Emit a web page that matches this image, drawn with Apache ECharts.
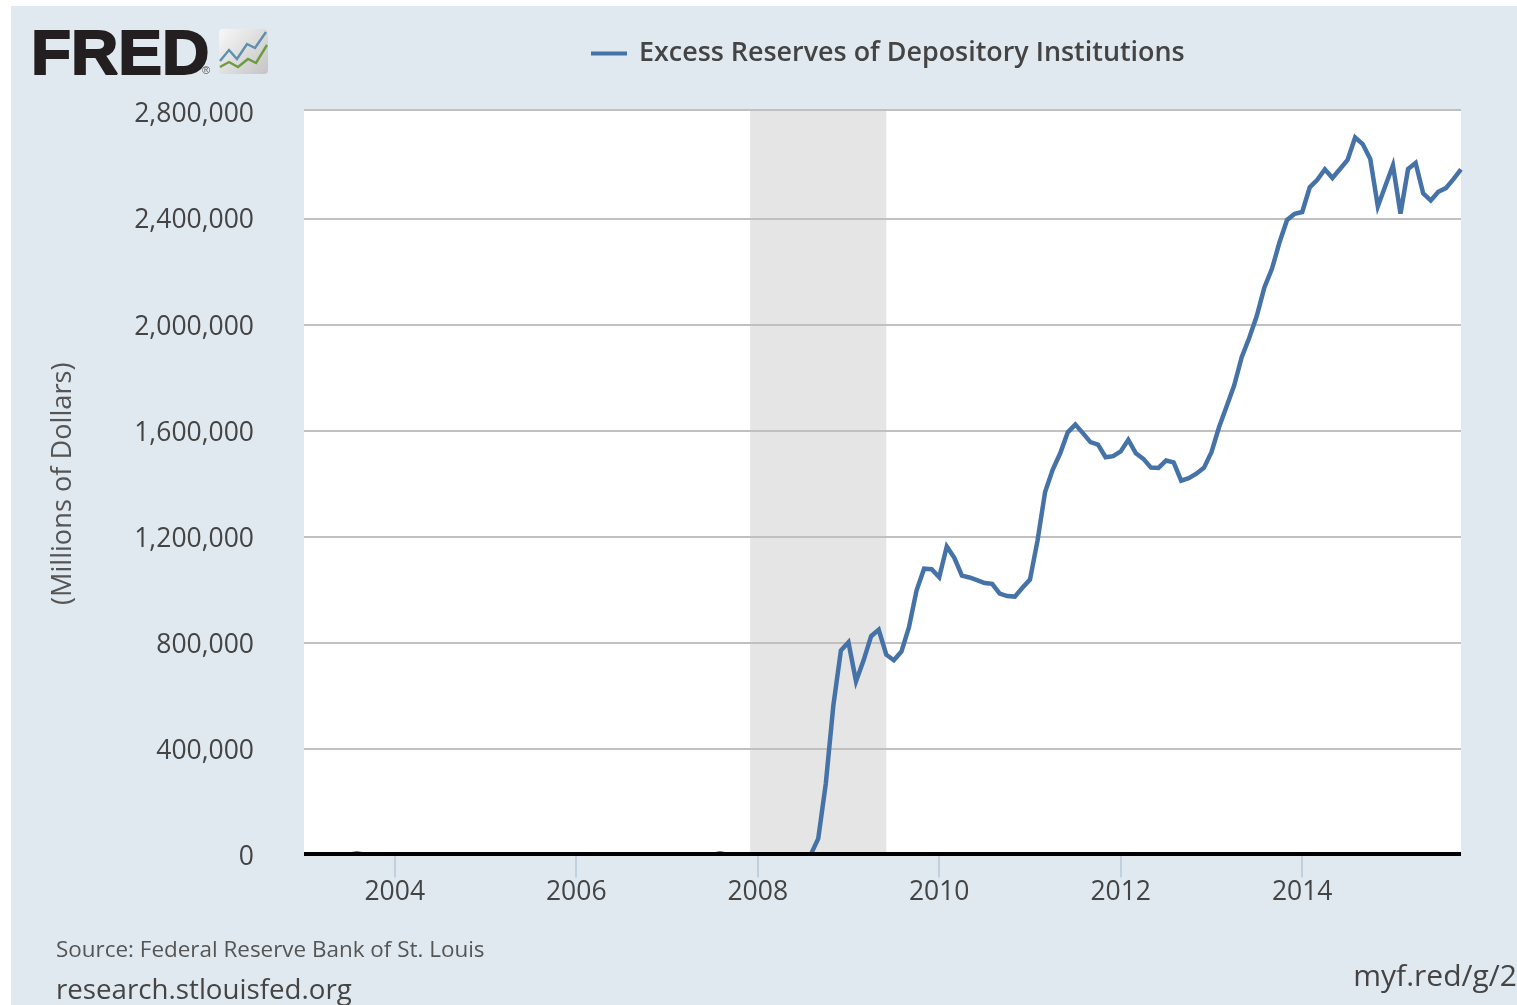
<!DOCTYPE html>
<html>
<head>
<meta charset="utf-8">
<style>html,body{margin:0;padding:0;background:#fff}#c{width:1517px;height:1005px}</style>
<script src="https://cdn.jsdelivr.net/npm/echarts@6/dist/echarts.min.js"></script>
</head>
<body>
<div id="c"></div>
<script>
const seriesName = 'Excess Reserves of Depository Institutions';
const yAxisTitle = '(Millions of Dollars)';
const sourceText = 'Source: Federal Reserve Bank of St. Louis';
const siteText = 'research.stlouisfed.org';
const linkText = 'myf.red/g/2';
const recession = ['2007-12', '2009-06'];
const startYear = 2003, endYear = 2015, endMonth = 10;

const values2003 = [1800,1700,1900,1700,1600,1800,2400,8000,3000,1800,1700,1600];
const values2004 = [1500,1700,1800,1700,2000,1900,1700,1800,1900,1700,1800,1700];
const values2005 = [1600,1700,1700,1800,1600,1700,1700,1600,1700,1500,1600,1500];
const values2006 = [1600,1500,1700,1500,1600,1600,1600,1700,1600,1500,1600,1600];
const values2007 = [1500,1500,1600,1600,1500,1500,1600,8000,3000,1700,1500,1800];
const values2008 = [1600,1700,1800,1800,1800,2000,1900,2000,63000,270000,565000,772000];
const values2009 = [803000,656000,735000,826000,850000,756000,735000,768000,860000,998000,1080000,1078000];
const values2010 = [1048000,1164000,1121000,1054000,1047000,1037000,1026000,1023000,986000,977000,975000,1008000];
const values2011 = [1039000,1186000,1369000,1453000,1515000,1594000,1623000,1591000,1557000,1548000,1500000,1504000];
const values2012 = [1522000,1566000,1515000,1494000,1461000,1460000,1488000,1481000,1412000,1421000,1438000,1460000];
const values2013 = [1519000,1613000,1691000,1770000,1877000,1950000,2033000,2140000,2210000,2310000,2394000,2417000];
const values2014 = [2424000,2517000,2545000,2585000,2552000,2586000,2620000,2705000,2680000,2624000,2445000,2523000];
const values2015 = [2600000,2418000,2586000,2609000,2494000,2467000,2500000,2514000,2548000,2585000];
const seriesValues = [].concat(values2003,values2004,values2005,values2006,values2007,values2008,values2009,values2010,values2011,values2012,values2013,values2014,values2015);

const categories = [];
for (let y = startYear; y <= endYear; y++) {
  for (let m = 1; m <= 12; m++) {
    if (y === endYear && m > endMonth) break;
    categories.push(y + '-' + String(m).padStart(2, '0'));
  }
}
const isLabelled = (i) => categories[i].endsWith('-01') && parseInt(categories[i], 10) % 2 === 0;

const font = '"Open Sans", sans-serif';
const chart = echarts.init(document.getElementById('c'), null, {renderer: 'canvas'});
const baseGraphic = [
  {type: 'rect', z: -3, shape: {x: 11, y: 6, width: 1506, height: 999}, style: {fill: '#e1e9f0'}},
  {type: 'rect', z: -2, shape: {x: 304, y: 110, width: 1157, height: 745}, style: {fill: '#fff'}},
  {type: 'line', z: 1.6, shape: {x1: 304, y1: 110, x2: 1461, y2: 110}, style: {stroke: '#c0c0c0', lineWidth: 2}},
  {type: 'rect', z: 3.5, shape: {x: 304, y: 856, width: 1157, height: 4}, style: {fill: '#e1e9f0'}},
  {type: 'line', z: 8, shape: {x1: 304, y1: 854, x2: 1461, y2: 854}, style: {stroke: '#000', lineWidth: 4}},
  {type: 'text', z: 5, x: 31, y: 25, scaleX: 1.04, style: {text: 'FRED', fontFamily: '"Liberation Sans"', fontWeight: 'bold', fontSize: 63, fill: '#231f20', stroke: '#231f20', lineWidth: 2, verticalAlign: 'top'}},
  {type: 'text', z: 5, x: 202, y: 65, style: {text: '®', fontFamily: '"Liberation Sans"', fontSize: 11, fill: '#555', verticalAlign: 'top'}},
  {type: 'rect', z: 5, shape: {x: 219, y: 29, width: 49, height: 45, r: 4},
    style: {fill: new echarts.graphic.LinearGradient(0, 0, 1, 1, [{offset: 0, color: '#f8f8f8'}, {offset: 1, color: '#c4c4c4'}])}},
  {type: 'polyline', z: 6, shape: {points: [[220, 61], [229, 50], [237, 59], [247, 44], [255, 48], [266, 32]]}, style: {fill: 'none', stroke: '#5d8fae', lineWidth: 2.4}},
  {type: 'polyline', z: 6, shape: {points: [[220, 67], [229, 62], [238, 67], [248, 59], [256, 63], [267, 45]]}, style: {fill: 'none', stroke: '#6d9b3f', lineWidth: 2.4}},
  {type: 'text', z: 5, x: 56, y: 951, style: {text: sourceText, fontFamily: font, fontSize: 22.45, fill: '#555', verticalAlign: 'middle'}},
  {type: 'text', z: 5, x: 56, y: 991, style: {text: siteText, fontFamily: font, fontSize: 27.7, fill: '#444', verticalAlign: 'middle'}},
  {type: 'text', z: 5, x: 1517, y: 977, style: {text: linkText, fontFamily: font, fontSize: 30, fill: '#444', align: 'right', verticalAlign: 'middle'}}
];
chart.setOption({
  animation: false,
  backgroundColor: '#fff',
  grid: {left: 304, right: 56, top: 112.2, bottom: 149.6},
  legend: {
    left: 586, top: 35, itemWidth: 36, itemHeight: 4, icon: 'rect',
    data: [seriesName],
    textStyle: {fontFamily: font, fontSize: 26.9, fontWeight: 600, color: '#444', padding: [0, 0, 0, 7]}
  },
  xAxis: {
    type: 'category', data: categories, boundaryGap: false, z: 4,
    axisLine: {show: false},
    axisTick: {show: true, length: 22, interval: (i) => isLabelled(i), lineStyle: {color: '#c0d0e0', width: 2}},
    axisLabel: {interval: (i) => isLabelled(i), formatter: (v) => v.slice(0, 4), margin: 24, fontFamily: font, fontSize: 26.5, color: '#444'},
    splitLine: {show: false}
  },
  yAxis: {
    type: 'value', min: 0, max: 2800000, interval: 400000, z: 1.5,
    name: yAxisTitle, nameLocation: 'middle', nameGap: 227, nameRotate: 90,
    nameTextStyle: {fontFamily: font, fontSize: 27.2, color: '#555'},
    axisLine: {show: false}, axisTick: {show: false},
    axisLabel: {margin: 50, fontFamily: font, fontSize: 26.5, color: '#444', verticalAlign: 'top', lineHeight: 5,
      formatter: (v) => v.toLocaleString('en-US')},
    splitLine: {show: true, showMaxLine: false, lineStyle: {color: '#c0c0c0', width: 2}}
  },
  series: [{
    name: seriesName, type: 'line', data: seriesValues, z: 3,
    showSymbol: false, symbol: 'none', smooth: false,
    lineStyle: {color: '#4572a7', width: 4.5, join: 'miter', miterLimit: 4},
    itemStyle: {color: '#4572a7'},
    markArea: {silent: true, z: 1, itemStyle: {color: '#e5e5e5'},
      data: [[{xAxis: recession[0]}, {xAxis: recession[1]}]]}
  }],
  graphic: baseGraphic
});
// extend the recession band up to the plot's top edge, using the chart's own x scale
const bandX0 = chart.convertToPixel({xAxisIndex: 0}, recession[0]);
const bandX1 = chart.convertToPixel({xAxisIndex: 0}, recession[1]);
chart.setOption({graphic: baseGraphic.concat([
  {type: 'rect', z: -1, shape: {x: bandX0, y: 110, width: bandX1 - bandX0, height: 4}, style: {fill: '#e5e5e5'}}
])});
</script>
</body>
</html>
